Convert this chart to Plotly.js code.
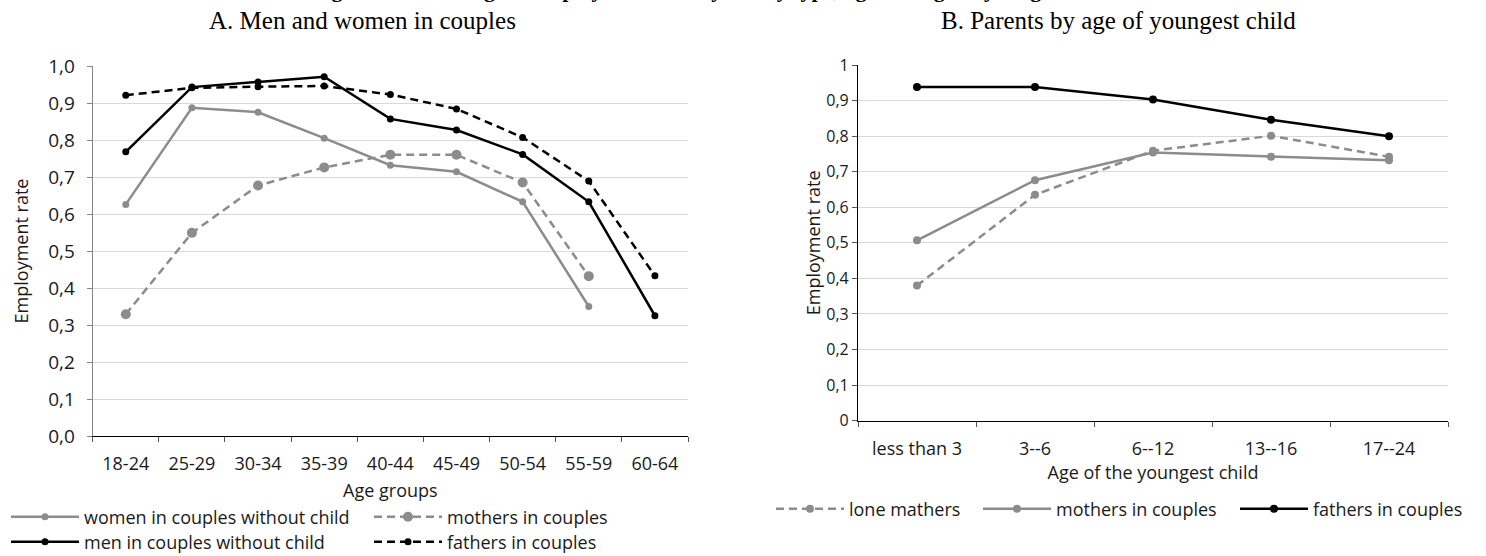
<!DOCTYPE html>
<html>
<head>
<meta charset="utf-8">
<script src="https://cdn.plot.ly/plotly-3.0.1.min.js"></script>
<style>
html,body{margin:0;padding:0;background:#fff;}
#chart{width:1486px;height:556px;}
</style>
</head>
<body>
<div id="chart"></div>
<script>
// ---- Data ----
var ageGroups = ['18-24','25-29','30-34','35-39','40-44','45-49','50-54','55-59','60-64'];
var womenNoChild = [0.626,0.887,0.875,0.805,0.732,0.714,0.633,0.350,null];
var mothersCouplesA = [0.329,0.549,0.677,0.726,0.760,0.760,0.685,0.432,null];
var menNoChild = [0.768,0.943,0.957,0.971,0.857,0.827,0.761,0.633,0.325];
var fathersCouplesA = [0.921,0.941,0.944,0.946,0.923,0.884,0.807,0.689,0.433];

var youngestAge = ['less than 3','3--6','6--12','13--16','17--24'];
var loneMothers = [0.380,0.635,0.759,0.801,0.742];
var mothersCouplesB = [0.507,0.676,0.754,0.742,0.732];
var fathersCouplesB = [0.938,0.938,0.903,0.846,0.800];

var namesA = ['women in couples without child','mothers in couples','men in couples without child','fathers in couples'];
var namesB = ['lone mathers','mothers in couples','fathers in couples'];

var mainTitle = 'Figure 2. Percentage of employment rate by family type, age and age of youngest child';
var titleA = 'A. Men and women in couples';
var titleB = 'B. Parents by age of youngest child';
var yTitle = 'Employment rate';
var xTitleA = 'Age groups';
var xTitleB = 'Age of the youngest child';

// ---- Styles ----
var GRAY = '#8c8c8c';
var BLACK = '#000000';
var LW = 2.5;
var DASH = '8px,5px';
var FONT = 'Open Sans, Liberation Sans, sans-serif';

function tr(x, y, name, color, dash, msize, xa, ya, leg){
  return {
    type:'scatter', mode:'lines+markers', x:x, y:y, name:name,
    xaxis:xa, yaxis:ya, legend:leg, connectgaps:false,
    line:{color:color, width:LW, dash:dash},
    marker:{color:color, size:msize, symbol:'circle'},
    hoverinfo:'x+y+name'
  };
}

var data = [
  tr(ageGroups, womenNoChild, namesA[0], GRAY, 'solid', 7, 'x', 'y', 'legend'),
  tr(ageGroups, mothersCouplesA, namesA[1], GRAY, DASH, 10, 'x', 'y', 'legend2'),
  tr(ageGroups, menNoChild, namesA[2], BLACK, 'solid', 7, 'x', 'y', 'legend3'),
  tr(ageGroups, fathersCouplesA, namesA[3], BLACK, DASH, 7, 'x', 'y', 'legend4'),
  tr(youngestAge, loneMothers, namesB[0], GRAY, DASH, 8, 'x2', 'y2', 'legend5'),
  tr(youngestAge, mothersCouplesB, namesB[1], GRAY, 'solid', 8, 'x2', 'y2', 'legend6'),
  tr(youngestAge, fathersCouplesB, namesB[2], BLACK, 'solid', 8, 'x2', 'y2', 'legend7')
];

var W = 1486, H = 556;
function px(v){ return v / W; }
function py(v){ return (H - v) / H; }

function leg(xpx, ypx){
  return {x:px(xpx), y:py(ypx), xanchor:'left', yanchor:'middle', orientation:'h',
    bgcolor:'rgba(0,0,0,0)', borderwidth:0, itemwidth:68,
    font:{family:FONT, size:18, color:'#1a1a1a'}};
}

var tickFont = {family:FONT, size:18, color:'#1a1a1a'};

var layout = {
  width:W, height:H,
  margin:{l:0, r:0, t:0, b:0, autoexpand:false},
  paper_bgcolor:'#ffffff', plot_bgcolor:'#ffffff',
  separators:', ',
  showlegend:true,
  font:{family:FONT, size:18, color:'#1a1a1a'},
  xaxis:{
    domain:[px(92.7), px(688)], anchor:'y', type:'category',
    range:[-0.5, 8.5], fixedrange:true,
    showline:true, linecolor:'#000', linewidth:1.2,
    ticks:'outside', tickson:'boundaries', ticklen:5, tickcolor:'#555', tickwidth:1,
    ticklabelstandoff:11,
    showgrid:false, tickfont:tickFont,
    title:{text:xTitleA, font:{family:FONT, size:18, color:'#1a1a1a'}, standoff:10}
  },
  yaxis:{
    domain:[py(436), py(66)], anchor:'x', range:[0, 1], dtick:0.1, tick0:0,
    tickformat:'.1f', fixedrange:true,
    showline:true, linecolor:'#868686', linewidth:1.2,
    ticks:'outside', ticklen:5, tickcolor:'#868686',
    ticklabelstandoff:8,
    showgrid:true, gridcolor:'#d9d9d9', gridwidth:1.2, zeroline:false,
    tickfont:{family:FONT, size:19, color:'#1a1a1a'},
    title:{text:yTitle, font:{family:FONT, size:18, color:'#1a1a1a'}, standoff:14}
  },
  xaxis2:{
    domain:[px(858), px(1448)], anchor:'y2', type:'category',
    range:[-0.5, 4.5], fixedrange:true,
    showline:true, linecolor:'#000', linewidth:1.2,
    ticks:'outside', tickson:'boundaries', ticklen:5, tickcolor:'#555', tickwidth:1,
    ticklabelstandoff:12,
    showgrid:false, tickfont:tickFont,
    title:{text:xTitleB, font:{family:FONT, size:18, color:'#1a1a1a'}, standoff:3}
  },
  yaxis2:{
    domain:[py(420.7), py(65)], anchor:'x2', range:[0, 1], dtick:0.1, tick0:0,
    fixedrange:true,
    showline:true, linecolor:'#000', linewidth:1.2,
    ticks:'outside', ticklen:5, tickcolor:'#555',
    showgrid:true, gridcolor:'#d9d9d9', gridwidth:1.2, zeroline:false,
    tickfont:{family:FONT, size:16, color:'#1a1a1a'},
    title:{text:yTitle, font:{family:FONT, size:18, color:'#1a1a1a'}, standoff:0}
  },
  legend: leg(6, 517),
  legend2: leg(369, 517),
  legend3: leg(6, 542),
  legend4: leg(369, 542),
  legend5: leg(771, 509),
  legend6: leg(978, 509),
  legend7: leg(1235, 509),
  annotations:[
    {text:mainTitle, xref:'paper', yref:'paper', x:px(715), y:1, xanchor:'center', yanchor:'bottom',
     yshift:-4, showarrow:false, font:{family:'Liberation Serif, serif', size:22, color:'#000', weight:'bold'}},
    {text:titleA, xref:'paper', yref:'paper', x:px(362), y:py(20), xanchor:'center', yanchor:'middle',
     showarrow:false, font:{family:'Liberation Serif, serif', size:25, color:'#000'}},
    {text:titleB, xref:'paper', yref:'paper', x:px(1118), y:py(20), xanchor:'center', yanchor:'middle',
     showarrow:false, font:{family:'Liberation Serif, serif', size:25, color:'#000'}}
  ]
};

Plotly.newPlot('chart', data, layout, {displayModeBar:false, staticPlot:false});
</script>
</body>
</html>
